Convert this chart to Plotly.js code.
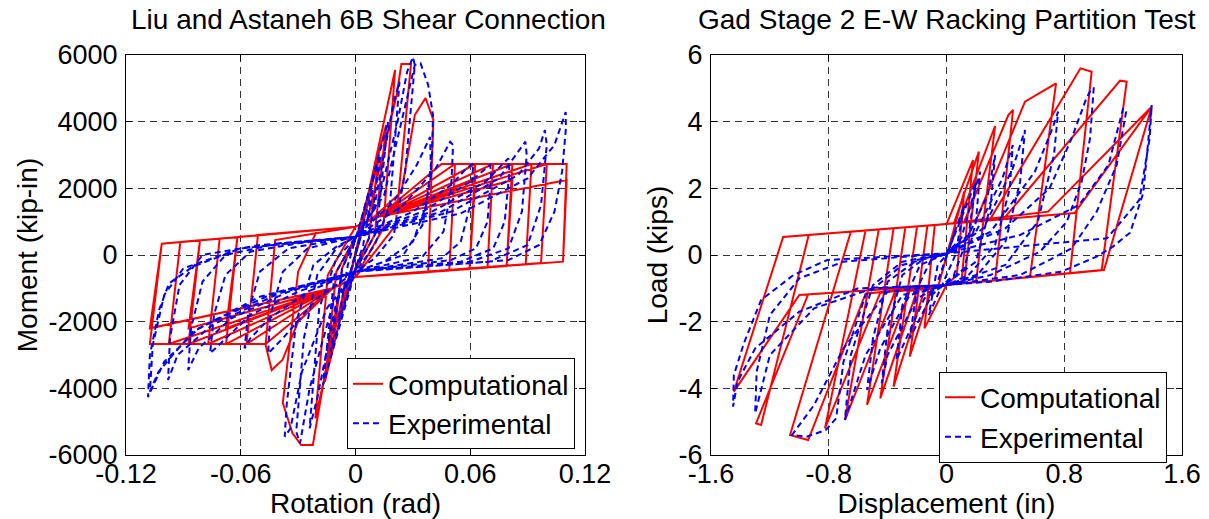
<!DOCTYPE html>
<html>
<head>
<meta charset="utf-8">
<script src="https://cdn.plot.ly/plotly-3.0.1.min.js"></script>
<style>html,body{margin:0;padding:0;background:#fff;}#chart{width:1209px;height:519px;}</style>
</head>
<body>
<div id="chart"></div>
<script>
// ---- Left panel: Liu and Astaneh 6B Shear Connection, [rotation (rad), moment (kip-in)] ----
const compLeft = [
[0,0],[0.004,900],[-0.004,-900],[0.008,1900],[-0.008,-1800],[0.012,2900],[0.007,500],[-0.002,-650],
[-0.012,-2800],[-0.007,-400],[0.002,800],[0.016,3900],[0.010,600],[-0.003,-750],[-0.016,-3800],
[-0.010,-500],[0.003,850],[0.0207,5550],[0.0145,800],[0.0,-660],[-0.005,-800],[-0.021,-4900],
[-0.0145,-600],[0.0,850],[0.006,1000],[0.0215,4800],[0.024,5730],[0.029,5730],[0.021,900],
[0.0,-660],[-0.008,-900],[-0.0223,-5700],[-0.0284,-5700],[-0.033,-5340],[-0.038,-4440],
[-0.030,-500],[-0.020,750],[0.0,850],[0.009,1100],[0.024,1900],[0.031,4200],[0.0366,4710],
[0.0407,4050],[0.038,-520],[0.0,-660],[-0.012,-1000],[-0.030,-2000],[-0.0382,-3150],
[-0.0438,-3450],[-0.047,-2700],[-0.042,450],[0.0,850],[0.012,1150],[0.045,2730],[0.052,2730],
[0.049,-470],[0.0,-660],[-0.012,-1000],[-0.047,-2670],[-0.057,-2670],[-0.051,600],[0.0,850],
[0.012,1150],[0.052,2730],[0.0626,2730],[0.0596,-420],[0.0,-660],[-0.012,-1000],[-0.057,-2670],
[-0.0677,-2670],[-0.0617,540],[0.0,850],[0.012,1150],[0.0626,2250],[0.0596,-420],[0.0,-660],
[-0.012,-1000],[-0.0677,-2200],[-0.0617,540],[0.0,850],[0.012,1150],[0.0626,2730],[0.0719,2730],
[0.069,-380],[0.0,-660],[-0.012,-1000],[-0.0677,-2670],[-0.077,-2670],[-0.071,490],[0.0,850],
[0.012,1150],[0.0719,2730],[0.082,2730],[0.079,-330],[0.0,-660],[-0.012,-1000],[-0.077,-2670],
[-0.0873,-2670],[-0.0813,440],[0.0,850],[0.012,1150],[0.082,2250],[0.079,-330],[0.0,-660],
[-0.012,-1000],[-0.0873,-2200],[-0.0813,440],[0.0,850],[0.012,1150],[0.082,2730],[0.092,2730],
[0.089,-280],[0.0,-660],[-0.012,-1000],[-0.0873,-2670],[-0.0976,-2670],[-0.0916,390],[0.0,850],
[0.012,1150],[0.092,2730],[0.100,2730],[0.097,-240],[0.0,-660],[-0.012,-1000],[-0.0976,-2670],
[-0.1075,-2670],[-0.1013,340],[0.0,850],[0.012,1150],[0.100,2730],[0.1104,2730],[0.1085,-200],
[0.0,-660],[-0.012,-1000],[-0.1075,-2200],[-0.1013,340],[0.0,850],[0.012,1150],[0.1104,2250],
[0.1085,-200],[0.0,-660]
];
const expLeft = [
[0,0],[0.005,1000],[-0.005,-1000],[0.009,2000],[0.004,300],[-0.009,-2000],[-0.004,-300],
[0.013,3000],[0.007,500],[0.0,-400],[-0.013,-2900],[-0.007,-400],[0.0,450],[0.017,4000],
[0.011,700],[0.0,-450],[-0.017,-3900],[-0.011,-600],[0.0,500],[0.010,1500],[0.020,4600],
[0.023,5200],[0.018,1500],[0.010,300],[0.0,-500],[-0.010,-1400],[-0.020,-4300],[-0.024,-5200],
[-0.019,-1600],[-0.010,-100],[0.0,500],[0.012,1600],[0.022,4000],[0.027,5500],[0.030,5940],
[0.031,5700],[0.026,2500],[0.020,600],[0.010,-100],[0.0,-500],[-0.012,-1500],[-0.024,-4000],
[-0.029,-5650],[-0.031,-5300],[-0.027,-2500],[-0.020,-600],[-0.010,200],[0.0,550],[0.015,1800],
[0.026,4500],[0.031,5700],[0.034,5750],[0.038,5100],[0.0405,4200],[0.040,3000],[0.037,1500],
[0.030,400],[0.015,-200],[0.0,-500],[-0.015,-1600],[-0.028,-3500],[-0.034,-5200],[-0.037,-5450],
[-0.036,-4500],[-0.031,-2000],[-0.022,-300],[-0.010,250],[0.0,550],[0.020,1600],[0.032,2700],
[0.039,3540],[0.0395,2400],[0.035,900],[0.025,0],[0.0,-500],[-0.020,-1300],[-0.038,-2500],
[-0.0457,-2950],[-0.0445,-1800],[-0.038,-500],[-0.025,200],[0.0,550],[0.025,1500],[0.042,2600],
[0.0495,3400],[0.051,3300],[0.050,2000],[0.046,700],[0.035,-50],[0.0,-500],[-0.025,-1100],
[-0.045,-1900],[-0.055,-2500],[-0.058,-2800],[-0.056,-1700],[-0.050,-500],[-0.035,200],[0.0,550],
[0.030,1300],[0.050,2100],[0.058,2600],[0.0616,2750],[0.060,1500],[0.055,400],[0.045,-100],
[0.0,-500],[-0.030,-1100],[-0.055,-1800],[-0.068,-2500],[-0.076,-2950],[-0.074,-1800],
[-0.068,-600],[-0.055,100],[-0.030,350],[0.0,550],[0.035,1300],[0.060,2200],[0.0703,2700],
[0.071,2500],[0.069,1000],[0.063,200],[0.050,-150],[0.0,-500],[-0.035,-1100],[-0.065,-1900],
[-0.082,-2800],[-0.0875,-3450],[-0.086,-2200],[-0.080,-800],[-0.068,0],[-0.040,350],[0.0,550],
[0.040,1300],[0.068,2200],[0.0799,2900],[0.0805,2500],[0.078,1000],[0.072,200],[0.055,-200],
[0.0,-500],[-0.040,-1150],[-0.075,-2100],[-0.093,-3000],[-0.098,-3750],[-0.097,-2500],
[-0.092,-900],[-0.080,0],[-0.050,300],[0.0,550],[0.045,1300],[0.075,2300],[0.0888,3400],
[0.0895,3000],[0.087,1300],[0.080,200],[0.060,-200],[0.0,-500],[-0.045,-1200],[-0.082,-2200],
[-0.100,-3200],[-0.1085,-4260],[-0.1075,-3000],[-0.1027,-1650],[-0.0975,-850],[-0.085,-350],
[-0.060,200],[0.0,550],[0.050,1300],[0.085,2400],[0.096,3200],[0.099,3750],[0.100,3300],
[0.097,1500],[0.090,300],[0.070,-200],[0.0,-500],[-0.050,-1250],[-0.085,-2300],[-0.103,-3500],
[-0.1075,-4100],[-0.106,-2700],[-0.100,-1200],[-0.090,-400],[-0.060,200],[0.0,550],[0.055,1250],
[0.090,2300],[0.104,3300],[0.1099,4290],[0.110,3800],[0.108,2500],[0.104,1300],[0.096,300],
[0.080,-150],[0.0,-500]
];

// ---- Right panel: Gad Stage 2 E-W Racking Partition Test, [displacement (in), load (kips)] ----
const compRight = [
[0,0],[0.06,0.9],[-0.06,-1.0],[0.12,1.9],[0.07,-0.6],[0.0,-0.9],[-0.15,-2.2],[-0.08,0.9],
[0.0,0.93],[0.18,2.85],[0.10,-0.86],[0.0,-0.9],[-0.1,-1.0],[-0.25,-3.05],[-0.13,0.88],[0.0,0.93],
[0.05,0.95],[0.22,3.1],[0.12,-0.85],[0.0,-0.9],[-0.15,-1.05],[-0.36,-3.95],[-0.2,0.86],[0.0,0.93],
[0.08,0.97],[0.33,3.87],[0.2,-0.81],[0.0,-0.9],[-0.2,-1.06],[-0.45,-4.3],[-0.28,0.83],[0.0,0.93],
[0.12,1.0],[0.42,4.2],[0.452,4.35],[0.33,-0.76],[0.0,-0.9],[-0.25,-1.08],[-0.54,-4.5],[-0.36,0.8],
[0.0,0.93],[0.2,1.03],[0.533,4.6],[0.744,5.15],[0.567,-0.66],[0.0,-0.9],[-0.35,-1.1],[-0.69,-4.95],
[-0.46,0.77],[0.0,0.93],[0.3,1.1],[0.91,5.6],[0.986,5.5],[0.839,-0.54],[0.0,-0.9],[-0.45,-1.13],
[-0.826,-5.2],[-0.55,0.74],[0.0,0.93],[0.4,1.15],[1.179,5.23],[1.224,5.2],[1.054,-0.45],[0.0,-0.9],
[-0.55,-1.16],[-0.94,-5.55],[-1.063,-5.4],[-0.65,0.7],[0.0,0.93],[0.69,1.3],[1.394,4.45],
[1.07,-0.45],[0.0,-0.9],[-0.94,-1.18],[-1.294,-5.05],[-1.26,-5.1],[-0.936,0.6],[0.0,0.93],
[0.87,1.26],[1.394,4.45],[1.07,-0.45],[0.0,-0.9],[-1.0,-1.2],[-1.445,-4.1],[-1.11,0.54],[0.0,0.93]
];
const expRight = [
[0,0],[0.06,0.7],[-0.06,-0.8],[0.12,1.5],[0.06,0.0],[0.0,-0.6],[-0.12,-1.8],[-0.06,-0.3],[0.0,0.0],
[0.2,2.2],[0.15,0.6],[0.05,-0.6],[0.0,-0.8],[-0.1,-1.2],[-0.25,-2.5],[-0.2,-1.0],[-0.1,-0.1],
[0.0,0.05],[0.1,0.5],[0.228,2.5],[0.2,1.0],[0.12,-0.4],[0.0,-0.85],[-0.15,-1.3],[-0.34,-3.15],
[-0.3,-1.5],[-0.18,-0.3],[0.0,0.05],[0.15,0.6],[0.28,1.8],[0.33,3.0],[0.3,1.5],[0.2,-0.2],
[0.0,-0.85],[-0.2,-1.3],[-0.4,-3.0],[-0.44,-3.85],[-0.4,-2.2],[-0.3,-0.6],[-0.15,-0.1],[0.0,0.05],
[0.2,0.7],[0.38,2.3],[0.45,3.3],[0.43,2.0],[0.33,0.3],[0.15,-0.6],[0.0,-0.9],[-0.25,-1.2],
[-0.45,-2.8],[-0.54,-4.05],[-0.5,-2.5],[-0.4,-0.8],[-0.2,-0.15],[0.0,0.05],[0.25,0.8],[0.45,2.6],
[0.533,3.75],[0.5,2.2],[0.4,0.4],[0.2,-0.65],[0.0,-0.9],[-0.3,-1.2],[-0.55,-3.0],[-0.69,-4.95],
[-0.65,-3.0],[-0.5,-0.9],[-0.3,-0.2],[0.0,0.05],[0.3,0.7],[0.6,2.5],[0.72,3.8],[0.758,4.3],
[0.73,3.0],[0.62,1.0],[0.4,-0.3],[0.0,-0.9],[-0.4,-1.1],[-0.7,-2.8],[-0.9,-4.5],[-1.05,-5.4],
[-0.95,-5.45],[-0.82,-5.25],[-0.75,-4.9],[-0.7,-3.2],[-0.55,-1.2],[-0.3,-0.3],[0.0,0.05],[0.4,0.8],
[0.7,2.0],[0.85,3.5],[0.95,4.7],[0.986,5.0],[1.0,5.0],[0.975,3.5],[0.918,2.2],[0.817,1.0],
[0.635,0.1],[0.3,-0.6],[0.0,-0.9],[-0.5,-1.0],[-0.9,-1.6],[-1.2,-3.0],[-1.3,-4.75],[-1.29,-3.5],
[-1.2,-1.8],[-1.0,-0.7],[-0.7,-0.2],[0.0,0.05],[0.5,0.6],[0.9,1.5],[1.1,2.7],[1.2,4.4],[1.22,4.3],
[1.156,2.7],[1.02,1.3],[0.85,0.2],[0.5,-0.6],[0.0,-0.9],[-0.6,-1.0],[-1.0,-1.7],[-1.3,-2.8],
[-1.42,-3.8],[-1.45,-4.55],[-1.445,-3.6],[-1.376,-2.64],[-1.26,-1.35],[-1.04,-0.6],[-0.81,-0.15],
[-0.6,-0.1],[0.0,0.05],[0.6,0.3],[1.09,0.5],[1.31,1.65],[1.38,3.5],[1.394,4.5],[1.336,1.85],
[1.247,0.67],[1.13,0.25],[1.02,-0.05],[0.78,-0.5],[0.3,-0.8],[0.0,-0.9]
];

const leftXTicks = [-0.12, -0.06, 0, 0.06, 0.12];
const leftYTicks = [-6000, -4000, -2000, 0, 2000, 4000, 6000];
const rightXTicks = [-1.6, -0.8, 0, 0.8, 1.6];
const rightYTicks = [-6, -4, -2, 0, 2, 4, 6];
const seriesNames = ['Computational', 'Experimental'];

const FONT = 'Liberation Sans, Arial, sans-serif';
const xs = a => a.map(p => p[0]);
const ys = a => a.map(p => p[1]);

const redLine = {color: '#ff0000', width: 2};
const blueLine = {color: '#0000ff', width: 2, dash: '6px,4px'};

const traces = [
  {x: xs(compLeft), y: ys(compLeft), type: 'scatter', mode: 'lines', name: seriesNames[0], line: redLine, xaxis: 'x', yaxis: 'y', legend: 'legend'},
  {x: xs(expLeft), y: ys(expLeft), type: 'scatter', mode: 'lines', name: seriesNames[1], line: blueLine, xaxis: 'x', yaxis: 'y', legend: 'legend'},
  {x: xs(compRight), y: ys(compRight), type: 'scatter', mode: 'lines', name: seriesNames[0], line: redLine, xaxis: 'x2', yaxis: 'y2', legend: 'legend2'},
  {x: xs(expRight), y: ys(expRight), type: 'scatter', mode: 'lines', name: seriesNames[1], line: blueLine, xaxis: 'x2', yaxis: 'y2', legend: 'legend2'}
];

const axisBase = {
  showline: true, linecolor: '#000', linewidth: 1, mirror: 'ticks',
  ticks: 'inside', ticklen: 6, tickcolor: '#000',
  showgrid: true, gridcolor: '#333', griddash: '7px,5px', gridwidth: 1,
  zeroline: false, tickfont: {family: FONT, size: 27, color: '#000'},
  fixedrange: true
};
const xAxisExtra = {ticklabelstandoff: -5};
const yAxisExtra = {ticklabelstandoff: 2};
const titleFont = {family: FONT, size: 28, color: '#000'};

const layout = {
  width: 1209, height: 519,
  margin: {l: 0, r: 0, t: 0, b: 0},
  paper_bgcolor: '#fff', plot_bgcolor: '#fff',
  showlegend: true,
  xaxis: Object.assign({}, axisBase, xAxisExtra, {domain: [0.1042, 0.4839], range: [-0.12, 0.12], tickvals: leftXTicks, ticktext: ['-0.12','-0.06','0','0.06','0.12'], anchor: 'y',
    title: {text: 'Rotation (rad)', font: titleFont, standoff: 9}}),
  yaxis: Object.assign({}, axisBase, yAxisExtra, {domain: [0.1233, 0.894], range: [-6000, 6000], tickvals: leftYTicks, ticktext: leftYTicks.map(String), anchor: 'x',
    title: {text: 'Moment (kip-in)', font: titleFont, standoff: 2}}),
  xaxis2: Object.assign({}, axisBase, xAxisExtra, {domain: [0.5881, 0.9777], range: [-1.6, 1.6], tickvals: rightXTicks, ticktext: ['-1.6','-0.8','0','0.8','1.6'], anchor: 'y2',
    title: {text: 'Displacement (in)', font: titleFont, standoff: 9}}),
  yaxis2: Object.assign({}, axisBase, yAxisExtra, {domain: [0.1233, 0.894], range: [-6, 6], tickvals: rightYTicks, ticktext: rightYTicks.map(String), anchor: 'x2',
    title: {text: 'Load (kips)', font: titleFont, standoff: 2}}),
  legend: {x: 0.287, y: 0.31, xanchor: 'left', yanchor: 'top', bgcolor: '#fff', bordercolor: '#000', borderwidth: 1,
    font: {family: FONT, size: 28, color: '#000'}, tracegroupgap: 0},
  legend2: {x: 0.7767, y: 0.284, xanchor: 'left', yanchor: 'top', bgcolor: '#fff', bordercolor: '#000', borderwidth: 1,
    font: {family: FONT, size: 28, color: '#000'}, tracegroupgap: 0},
  annotations: [
    {text: 'Liu and Astaneh 6B Shear Connection', xref: 'paper', yref: 'paper', x: 0.305, y: 0.962, xanchor: 'center', yanchor: 'middle', showarrow: false, font: {family: FONT, size: 28, color: '#000'}},
    {text: 'Gad Stage 2 E-W Racking Partition Test', xref: 'paper', yref: 'paper', x: 0.783, y: 0.962, xanchor: 'center', yanchor: 'middle', showarrow: false, font: {family: FONT, size: 28, color: '#000'}}
  ]
};

Plotly.newPlot('chart', traces, layout, {displayModeBar: false, staticPlot: true});
</script>
</body>
</html>
